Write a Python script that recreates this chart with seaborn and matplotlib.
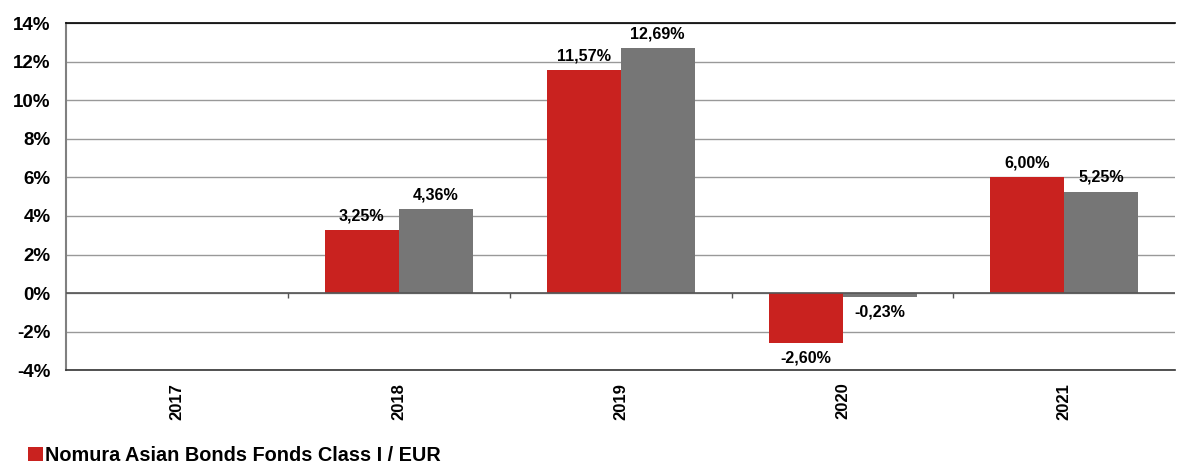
import pandas as pd
import numpy as np
import matplotlib.pyplot as plt
import seaborn as sns
from matplotlib.patches import Patch

# data
years = ['2017', '2018', '2019', '2020', '2021']
fund = [np.nan, 3.25, 11.57, -2.60, 6.00]
benchmark = [np.nan, 4.36, 12.69, -0.23, 5.25]
fund_name = 'Nomura Asian Bonds Fonds Class I / EUR'
bench_name = 'Benchmark'

red = '#C9221F'
grey = '#767676'

df = pd.DataFrame({
    'Jahr': years * 2,
    'Wert': fund + benchmark,
    'Serie': [fund_name] * len(years) + [bench_name] * len(years),
})

sns.set_style('white')
plt.rcParams['font.family'] = ['Liberation Sans', 'DejaVu Sans']
plt.rcParams['font.weight'] = 'bold'
plt.rcParams['text.color'] = 'black'
plt.rcParams['xtick.color'] = 'black'
plt.rcParams['ytick.color'] = 'black'

fig = plt.figure(figsize=(11.8, 4.65), dpi=100)
ax = fig.add_axes([0.056, 0.204, 0.94, 0.746])

sns.barplot(data=df, x='Jahr', y='Wert', hue='Serie', order=years,
            hue_order=[fund_name, bench_name], palette=[red, grey],
            width=0.667, gap=0, dodge=True, ax=ax, legend=False,
            saturation=1, errorbar=None, linewidth=0)

# value labels
for cont in ax.containers:
    labels = ['' if np.isnan(v) else f'{v:.2f}%'.replace('.', ',') for v in cont.datavalues]
    ax.bar_label(cont, labels=labels, padding=5, fontsize=11.6, fontweight='bold', color='black')

ax.set_ylim(-4, 14)
ax.set_yticks(np.arange(-4, 15, 2))
ax.set_yticklabels([f'{t}%' for t in range(-4, 15, 2)], fontsize=13.5, fontweight='bold')
ax.set_xlim(-0.5, 4.5)
ax.set_xticks(range(len(years)))
ax.set_xticklabels(years, rotation=90, fontsize=12, fontweight='bold')
ax.tick_params(axis='x', length=0, pad=9)
ax.tick_params(axis='y', length=5, color='#808080', width=1, direction='out', pad=6)

ax.yaxis.grid(True, color='#999999', lw=1)
ax.set_axisbelow(True)
ax.axhline(0, color='#555555', lw=1.2, zorder=3)
# category separator ticks on the zero line
ax.vlines(np.arange(0.5, 4, 1), -0.27, 0, color='#555555', lw=1, zorder=3)

ax.spines['right'].set_visible(False)
ax.spines['top'].set_color('black')
ax.spines['top'].set_linewidth(1.2)
ax.spines['bottom'].set_color('#333333')
ax.spines['bottom'].set_linewidth(1.2)
ax.spines['left'].set_color('#808080')
ax.spines['left'].set_linewidth(1.5)

ax.set_xlabel('')
ax.set_ylabel('')

handles = [Patch(facecolor=red, edgecolor='none')]
fig.legend(handles, [fund_name], loc='lower left', bbox_to_anchor=(0.009, -0.038),
           frameon=False, handlelength=0.72, handleheight=0.72, handletextpad=0.1,
           prop={'size': 14.3, 'weight': 'bold'})

plt.savefig('out.png', dpi=100)
plt.close()
